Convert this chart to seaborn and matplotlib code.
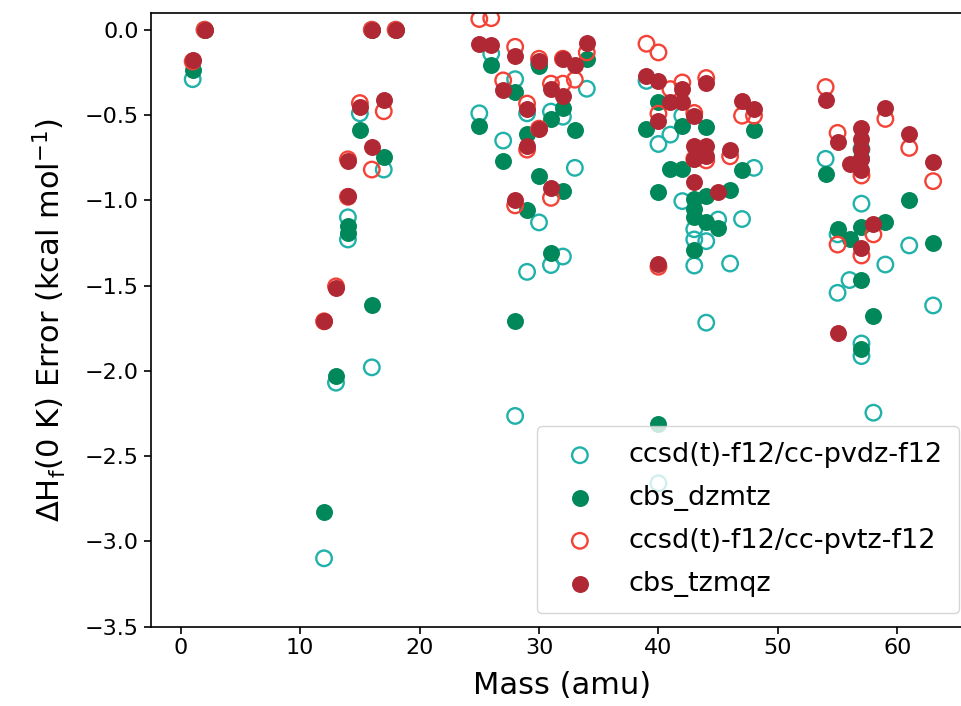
import matplotlib
matplotlib.use('Agg')
import pandas as pd
import matplotlib.pyplot as plt
import seaborn as sns

# heat of formation errors (kcal/mol) vs molecular mass

# ccsd(t)-f12/cc-pvdz-f12 (open teal)
mass_dz = [1, 2, 12, 13, 14, 14, 15, 16, 16, 17, 18, 25, 26, 27, 28, 28, 29, 29,
           30, 30, 31, 31, 32, 32, 33, 34, 39, 40, 40, 41, 42, 42, 43, 43, 43,
           44, 44, 45, 46, 47, 48, 54, 55, 55, 56, 57, 57, 57, 57, 58, 59, 61, 63]
err_dz = [-0.29, 0.0, -3.10, -2.07, -1.10, -1.23, -0.49, -1.98, 0.0, -0.82, 0.0,
          -0.49, -0.14, -0.65, -0.29, -2.265, -0.49, -1.42, -0.20, -1.13, -0.48,
          -1.38, -0.51, -1.33, -0.81, -0.346, -0.30, -0.67, -2.66, -0.615, -0.504,
          -1.005, -1.17, -1.23, -1.383, -1.24, -1.718, -1.113, -1.371, -1.11,
          -0.81, -0.757, -1.543, -1.20, -1.468, -0.70, -1.02, -1.84, -1.914,
          -2.246, -1.377, -1.265, -1.617]

# cbs_dzmtz (filled green)
mass_dzmtz = [1, 2, 12, 13, 14, 14, 15, 16, 16, 17, 18, 25, 26, 27, 28, 28, 29, 29,
              30, 30, 31, 31, 32, 32, 33, 34, 39, 40, 40, 40, 41, 42, 42, 43, 43,
              43, 43, 44, 44, 44, 45, 46, 47, 48, 54, 55, 56, 57, 57, 57, 57, 58,
              59, 61, 63]
err_dzmtz = [-0.234, 0.0, -2.83, -2.03, -1.15, -1.19, -0.59, -1.617, 0.0, -0.746,
             0.0, -0.562, -0.205, -0.77, -0.367, -1.709, -0.61, -1.058, -0.215,
             -0.859, -0.523, -1.31, -0.459, -0.943, -0.59, -0.172, -0.582, -0.426,
             -0.953, -2.314, -0.816, -0.562, -0.816, -0.99, -1.054, -1.10, -1.29,
             -0.57, -0.976, -1.13, -1.16, -0.937, -0.824, -0.59, -0.844, -1.17,
             -1.23, -0.75, -1.156, -1.468, -1.875, -1.68, -1.13, -1.0, -1.25]

# ccsd(t)-f12/cc-pvtz-f12 (open red)
mass_tz = [1, 2, 12, 13, 14, 14, 15, 16, 16, 17, 18, 25, 26, 27, 28, 28, 29, 29,
           30, 30, 31, 31, 32, 32, 33, 34, 39, 40, 40, 40, 41, 42, 43, 43, 44, 44,
           46, 47, 48, 54, 55, 55, 57, 57, 58, 59, 61, 63]
err_tz = [-0.186, 0.0, -1.71, -1.505, -0.76, -0.98, -0.43, -0.82, 0.0, -0.478, 0.0,
          0.063, 0.068, -0.297, -0.10, -1.03, -0.433, -0.703, -0.17, -0.58, -0.316,
          -0.986, -0.17, -0.316, -0.293, -0.133, -0.082, -0.133, -0.492, -1.39,
          -0.348, -0.309, -0.488, -0.757, -0.283, -0.766, -0.742, -0.504, -0.504,
          -0.336, -0.605, -1.26, -0.855, -1.324, -1.2, -0.523, -0.693, -0.888]

# cbs_tzmqz (filled red)
mass_tzmqz = [1, 2, 12, 13, 14, 14, 15, 16, 16, 17, 18, 25, 26, 27, 28, 28, 29, 29,
              30, 30, 31, 31, 32, 32, 33, 34, 39, 40, 40, 40, 41, 42, 42, 43, 43,
              43, 43, 44, 44, 44, 45, 46, 47, 48, 54, 55, 55, 56, 57, 57, 57, 57,
              57, 57, 58, 59, 61, 63]
err_tzmqz = [-0.176, 0.0, -1.709, -1.513, -0.77, -0.976, -0.455, -0.687, 0.0,
             -0.414, 0.0, -0.084, -0.088, -0.355, -0.156, -0.996, -0.465, -0.683,
             -0.185, -0.582, -0.348, -0.928, -0.172, -0.39, -0.205, -0.078, -0.27,
             -0.303, -0.537, -1.371, -0.426, -0.348, -0.426, -0.508, -0.683, -0.76,
             -0.894, -0.312, -0.683, -0.74, -0.953, -0.707, -0.42, -0.465, -0.414,
             -0.66, -1.777, -0.785, -0.576, -0.64, -0.70, -0.76, -0.82, -1.28,
             -1.137, -0.459, -0.61, -0.777]

labels = ['ccsd(t)-f12/cc-pvdz-f12', 'cbs_dzmtz',
          'ccsd(t)-f12/cc-pvtz-f12', 'cbs_tzmqz']

teal = '#20b2aa'
green = '#00875a'
red_open = '#f44336'
red = '#b02834'

fig = plt.figure(figsize=(9.61, 7.06), dpi=100)
ax = fig.add_axes([0.157, 0.1126, 0.855, 0.8694])

sns.scatterplot(x=mass_dz, y=err_dz, ax=ax, s=125, facecolor='none',
                edgecolor=teal, linewidth=1.7, label=labels[0])
sns.scatterplot(x=mass_dzmtz, y=err_dzmtz, ax=ax, s=125, color=green,
                edgecolor=green, linewidth=1, label=labels[1])
sns.scatterplot(x=mass_tz, y=err_tz, ax=ax, s=125, facecolor='none',
                edgecolor=red_open, linewidth=1.7, label=labels[2])
sns.scatterplot(x=mass_tzmqz, y=err_tzmqz, ax=ax, s=125, color=red,
                edgecolor=red, linewidth=1, label=labels[3])

ax.set_xlim(-2.5, 66.3)
ax.set_ylim(-3.5, 0.1)
ax.set_xticks(range(0, 61, 10))
ax.set_yticks([0.0, -0.5, -1.0, -1.5, -2.0, -2.5, -3.0, -3.5])
ax.tick_params(labelsize=16, length=5, width=1.2)
for sp in ax.spines.values():
    sp.set_linewidth(1.2)

ax.set_xlabel('Mass (amu)', fontsize=22, labelpad=9)
ax.set_ylabel(r'$\Delta$H$_\mathrm{f}$(0 K) Error (kcal mol$^{-1}$)', fontsize=22,
              labelpad=12)

ax.legend(loc='lower right', fontsize=19.5, labelspacing=0.62, borderpad=0.6)

fig.savefig('out.png', dpi=100)
